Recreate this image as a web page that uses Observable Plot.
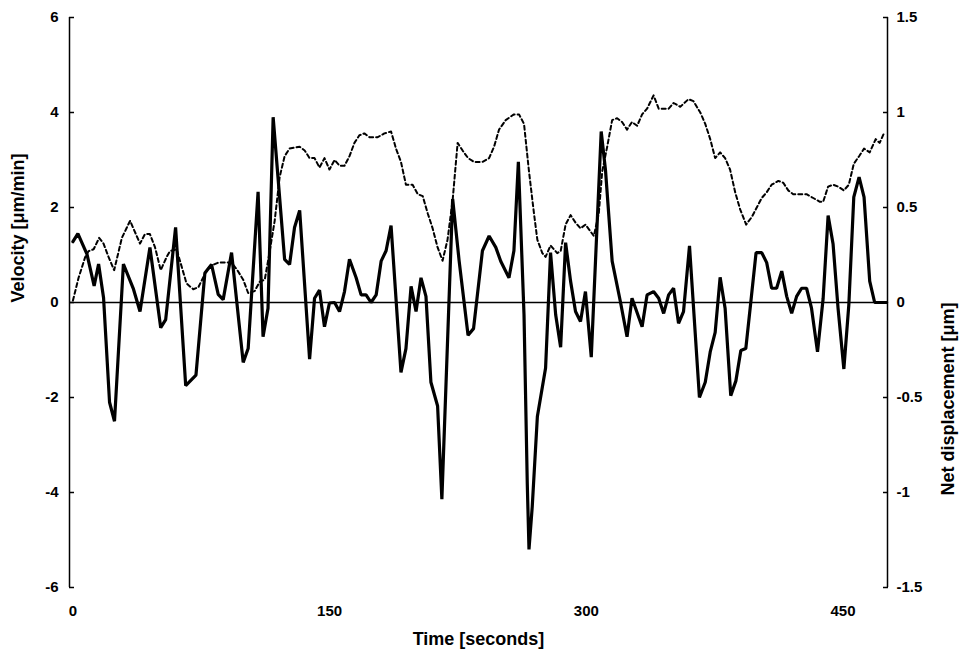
<!DOCTYPE html>
<html>
<head>
<meta charset="utf-8">
<script src="https://cdn.jsdelivr.net/npm/d3@7"></script>
<script src="https://cdn.jsdelivr.net/npm/@observablehq/plot@0.6"></script>
<style>
  html, body { margin: 0; padding: 0; background: #fff; }
  #chart { width: 961px; height: 657px; }
  svg { font-family: "Liberation Sans", Arial, sans-serif; font-weight: bold; }
</style>
</head>
<body>
<div id="chart"></div>
<script>
// Velocity (solid line), µm/min, read at each vertex
const velTime = [0,2.9,8.2,12.4,15.0,17.9,21.4,24.3,29.5,35.4,39.2,45.0,51.3,54.2,60.0,65.9,71.9,77.1,81.0,84.9,87.8,92.7,99.5,102.4,108.2,111.1,114.0,117.0,123.7,126.6,129.5,132.5,138.3,141.2,144.1,147.0,149.9,152.9,155.8,158.7,161.6,165.5,168.4,171.3,174.2,177.2,180.1,183.0,185.9,191.7,194.6,197.6,200.5,203.4,206.3,209.2,213.1,215.6,221.9,225.7,230.9,234.1,239.3,243.2,247.1,250.0,254.8,257.7,260.3,263.6,265.5,266.5,268.4,271.4,276.2,279.1,282.1,285.0,287.9,290.8,293.7,296.6,299.5,302.9,308.7,311.2,315.1,319.9,323.8,326.7,332.6,335.5,339.3,342.3,345.2,348.1,351.0,353.9,356.8,360.3,366.1,369.5,372.4,375.3,378.2,381.1,384.4,387.4,390.3,393.2,396.1,399.2,402.5,405.4,408.3,411.2,414.2,417.1,420.0,422.9,425.8,428.7,431.6,435.1,438.4,441.3,444.2,447.1,450.5,453.4,456.3,459.4,462.3,465.6,468.5,475.5];
const velocity = [1.28,1.45,1.02,0.35,0.81,0.1,-2.1,-2.5,0.81,0.28,-0.19,1.16,-0.53,-0.36,1.58,-1.75,-1.53,0.62,0.8,0.17,0.06,1.05,-1.26,-0.97,2.33,-0.72,-0.12,3.9,0.91,0.8,1.58,1.94,-1.19,0.09,0.26,-0.51,-0.01,0,-0.19,0.23,0.91,0.52,0.16,0.16,0,0.16,0.87,1.09,1.62,-1.47,-0.97,0.34,-0.19,0.52,0.13,-1.68,-2.18,-4.14,2.18,0.87,-0.69,-0.55,1.09,1.4,1.16,0.87,0.52,1.09,2.96,-0.26,-3.81,-5.2,-4.3,-2.4,-1.38,1.05,-0.26,-0.94,1.26,0.45,-0.19,-0.4,0.23,-1.15,3.6,2.79,0.87,0.02,-0.72,0.09,-0.51,0.16,0.23,0.09,-0.23,0.16,0.3,-0.44,-0.19,1.19,-2.0,-1.68,-1.04,-0.63,0.53,-0.12,-1.96,-1.65,-1.01,-0.97,0,1.05,1.05,0.84,0.3,0.3,0.66,0.13,-0.23,0.13,0.3,0.3,-0.12,-1.04,0.09,1.83,1.23,-0.12,-1.4,-0.05,2.22,2.64,2.22,0.45,0,0];

// Net displacement (dashed line), µm
const dispTime = [0,3.3,7.2,9.1,12.1,15.3,17.9,20.8,24.1,28.6,33.4,39.2,42.1,45.0,48.0,51.3,54.8,56.7,60.6,63.5,66.4,70.3,73.3,77.1,80.0,84.9,88.8,92.7,96.1,99.5,102.4,106.2,109.2,112.1,115.0,117.9,120.8,123.7,126.6,132.5,135.4,138.3,141.2,144.1,147.0,149.9,152.9,155.8,158.7,161.6,164.5,167.4,170.3,173.3,178.1,182.0,185.9,188.8,191.7,194.6,198.5,201.5,204.4,207.3,210.2,213.1,216.0,218.9,221.9,224.8,227.7,230.9,234.4,239.3,243.2,246.1,249.0,252.9,257.7,260.7,263.6,266.5,269.4,271.4,274.3,276.2,279.1,283.0,285.0,287.9,290.8,293.7,296.6,299.5,304.4,307.3,309.3,312.2,315.1,318.0,320.9,323.8,326.7,329.7,332.6,335.5,339.3,342.3,348.1,351.0,354.9,359.7,362.6,366.6,369.5,372.4,375.3,378.2,381.1,384.0,387.0,389.9,393.4,396.7,399.6,402.5,405.4,408.3,412.2,415.1,418.0,420.9,428.7,432.6,436.5,438.4,441.3,444.2,447.1,450.5,453.4,456.3,459.4,462.3,465.6,469.1,471.4,473.9];
const displacement = [0.01,0.13,0.24,0.27,0.28,0.34,0.31,0.24,0.17,0.34,0.43,0.31,0.36,0.36,0.29,0.17,0.24,0.27,0.28,0.19,0.1,0.07,0.08,0.15,0.19,0.21,0.21,0.21,0.17,0.12,0.05,0.06,0.11,0.12,0.27,0.43,0.66,0.77,0.81,0.82,0.8,0.76,0.76,0.71,0.76,0.7,0.75,0.72,0.72,0.77,0.84,0.88,0.89,0.87,0.87,0.89,0.9,0.81,0.74,0.62,0.62,0.57,0.56,0.47,0.39,0.29,0.22,0.33,0.54,0.84,0.8,0.76,0.74,0.74,0.76,0.82,0.91,0.96,0.99,0.99,0.94,0.69,0.47,0.33,0.26,0.24,0.3,0.26,0.27,0.41,0.46,0.42,0.39,0.41,0.35,0.47,0.69,0.82,0.96,0.97,0.95,0.91,0.95,0.93,0.99,1.02,1.09,1.02,1.02,1.05,1.03,1.07,1.06,1.0,0.94,0.86,0.76,0.79,0.76,0.7,0.58,0.49,0.41,0.45,0.5,0.55,0.58,0.62,0.64,0.63,0.59,0.57,0.57,0.55,0.53,0.53,0.61,0.62,0.61,0.59,0.62,0.73,0.77,0.81,0.79,0.86,0.84,0.89];

const xTicks = [0, 150, 300, 450];
const xDomain = [-2, 476];
const yTicks = [-6, -4, -2, 0, 2, 4, 6];
const rightTickLabels = ["-1.5", "-1", "-0.5", "0", "0.5", "1", "1.5"];
const xTitle = "Time [seconds]";
const yLeftTitle = "Velocity [\u03BCm/min]";
const yRightTitle = "Net displacement [\u03BCm]";

const velData = velTime.map((t, i) => ({t, v: velocity[i]}));
const dispData = dispTime.map((t, i) => ({t, d: displacement[i]}));
const ratio = 6 / 1.5; // left axis units per right axis unit

const chart = Plot.plot({
  width: 961,
  height: 657,
  marginLeft: 69,
  marginRight: 74,
  marginTop: 17,
  marginBottom: 70,
  style: {fontFamily: "'Liberation Sans', Arial, sans-serif", fontWeight: "bold", fontSize: "15px", color: "#000", background: "#fff"},
  x: {domain: xDomain},
  y: {domain: [-6, 6]},
  marks: [
    Plot.ruleY([0], {stroke: "#000", strokeWidth: 1.5}),
    Plot.ruleX(xDomain, {stroke: "#000", strokeWidth: 1.5}),
    Plot.line(dispData, {x: "t", y: d => d.d * ratio, stroke: "#000", strokeWidth: 2, strokeDasharray: "4,3"}),
    Plot.line(velData, {x: "t", y: "v", stroke: "#000", strokeWidth: 3.2, strokeLinejoin: "miter"}),
    // inward ticks
    Plot.axisY({anchor: "left", ticks: yTicks, tickSize: 5, dx: 5, tickFormat: () => "", label: null, strokeWidth: 1.5}),
    Plot.axisY({anchor: "right", ticks: yTicks, tickSize: 5, dx: -5, tickFormat: () => "", label: null, strokeWidth: 1.5}),
    // tick labels
    Plot.axisY({anchor: "left", ticks: yTicks, tickSize: 0, tickPadding: 11, tickFormat: d => String(d), fontSize: 15, label: null}),
    Plot.axisY({anchor: "right", ticks: yTicks, tickSize: 0, tickPadding: 9, tickFormat: d => rightTickLabels[yTicks.indexOf(d)], fontSize: 15, label: null}),
    Plot.axisX({ticks: xTicks, tickSize: 0, tickPadding: 18, tickFormat: d => String(d), fontSize: 15, label: null}),
    // titles
    Plot.text([xTitle], {text: d => d, frameAnchor: "bottom", dy: 57, fontSize: 18, fontWeight: "bold"}),
    Plot.text([yLeftTitle], {text: d => d, frameAnchor: "left", dx: -51, rotate: -90, fontSize: 18, fontWeight: "bold"}),
    Plot.text([yRightTitle], {text: d => d, frameAnchor: "right", dx: 61, rotate: -90, fontSize: 18, fontWeight: "bold"})
  ]
});
document.getElementById("chart").appendChild(chart);
</script>
</body>
</html>
